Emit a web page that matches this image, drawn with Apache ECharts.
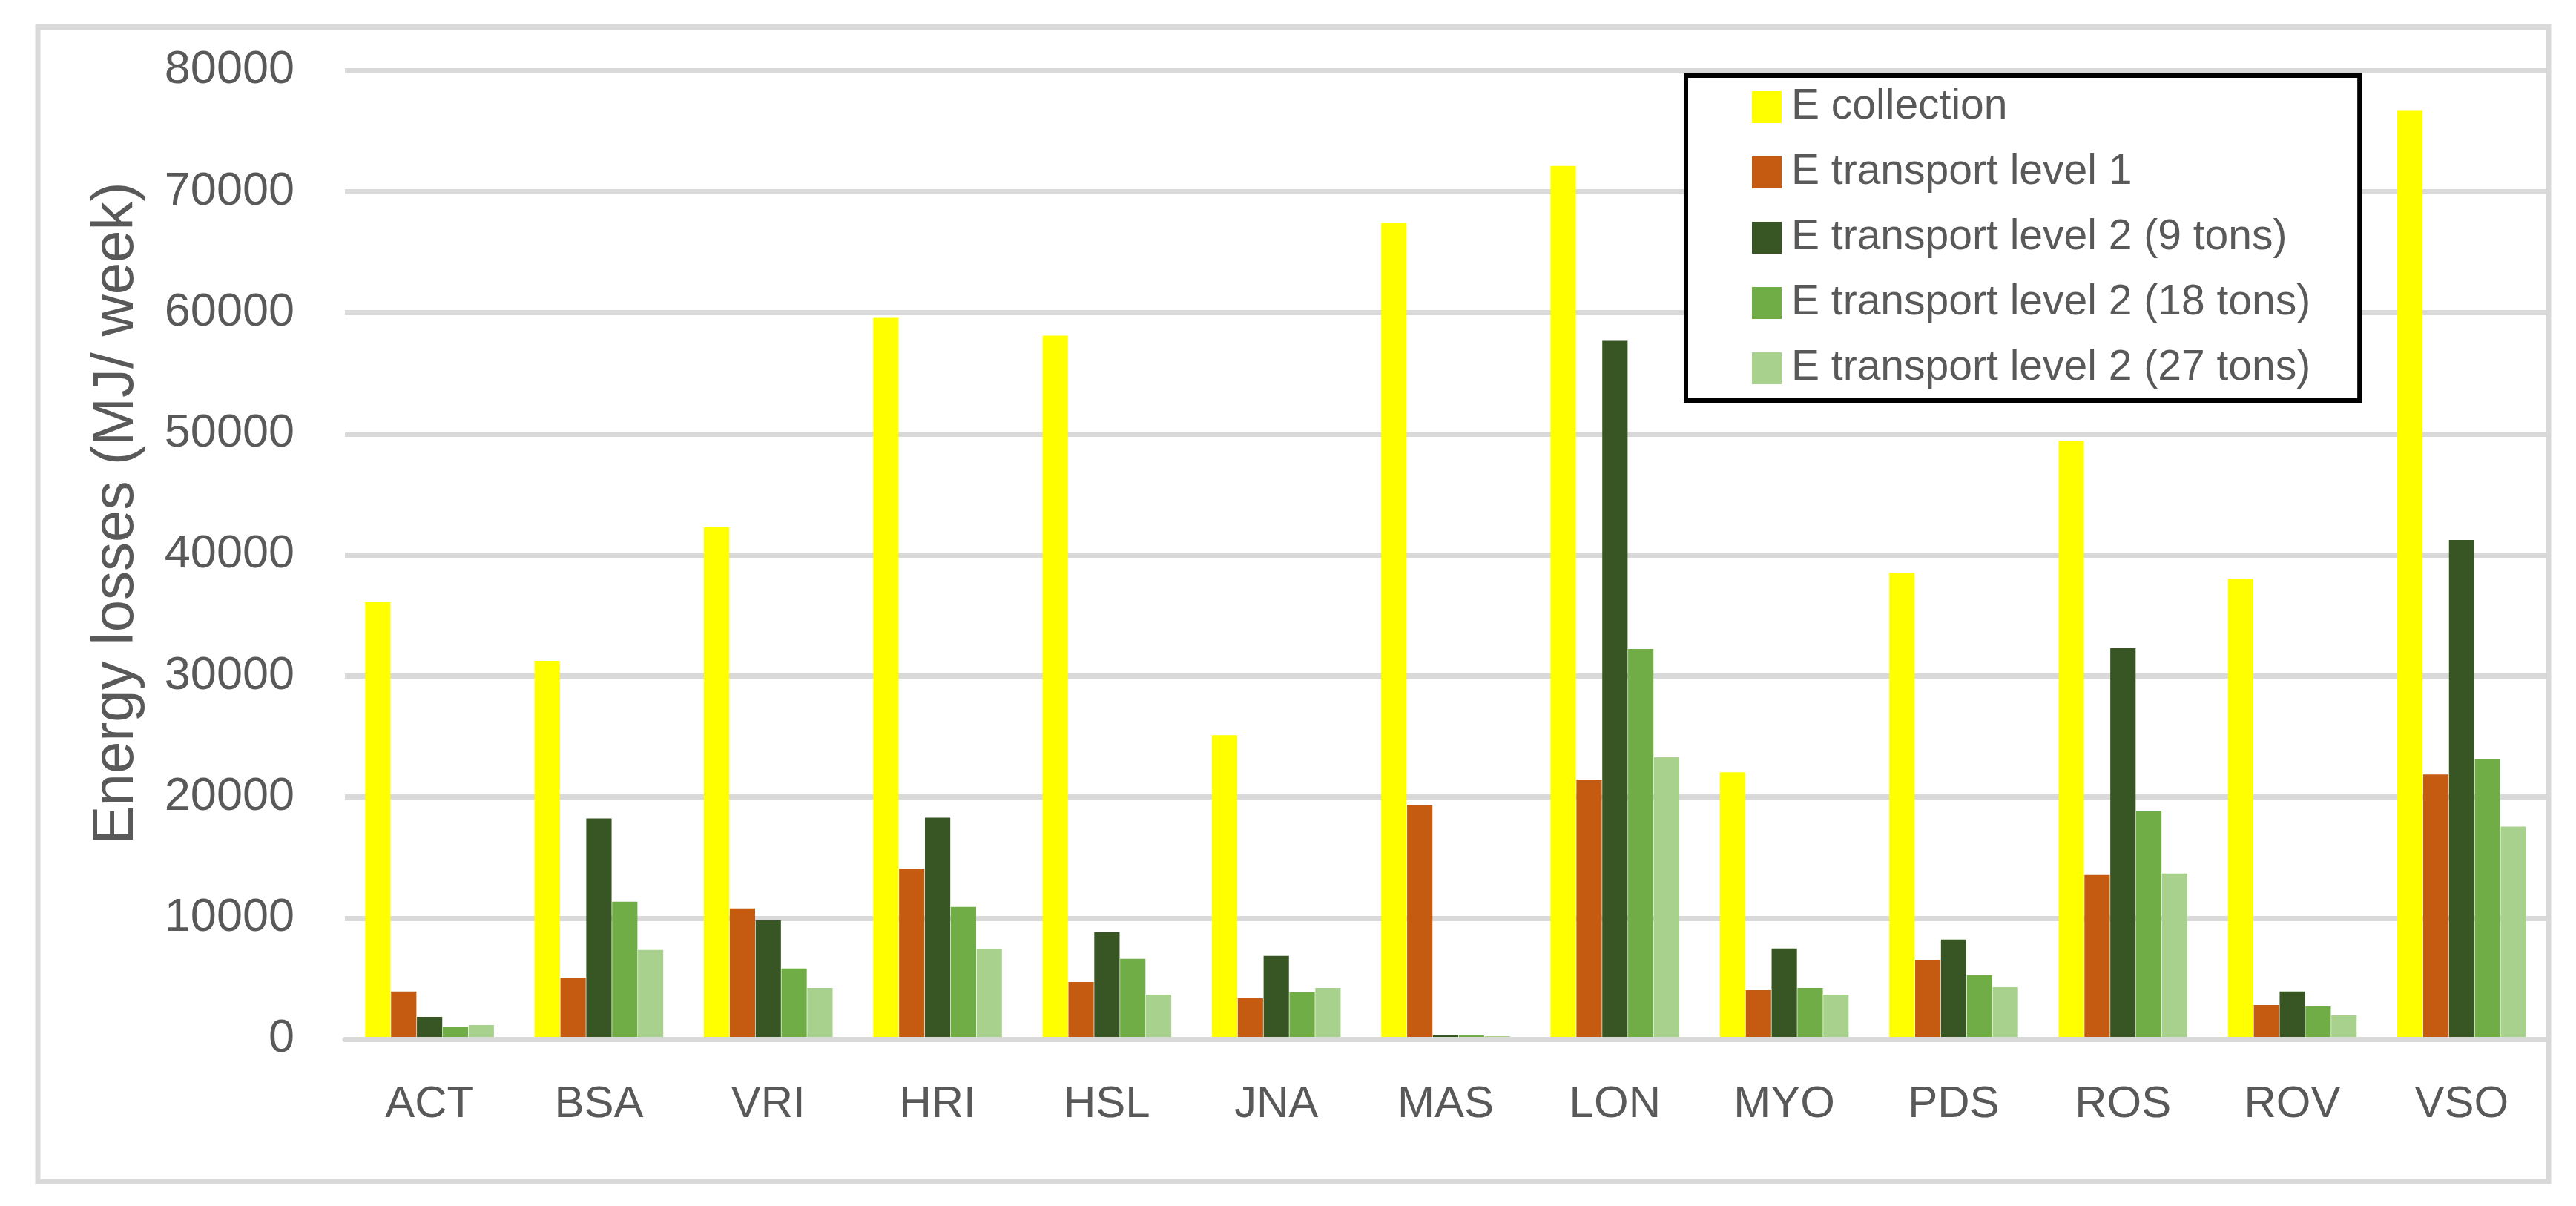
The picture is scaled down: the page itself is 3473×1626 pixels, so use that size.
<!DOCTYPE html>
<html>
<head>
<meta charset="utf-8">
<script src="https://cdn.jsdelivr.net/npm/echarts@6/dist/echarts.min.js"></script>
<style>
html,body{margin:0;padding:0;background:#fff;}
#chart{width:3473px;height:1626px;}
</style>
</head>
<body>
<div id="chart"></div>
<script>
const categories = ['ACT','BSA','VRI','HRI','HSL','JNA','MAS','LON','MYO','PDS','ROS','ROV','VSO'];
const seriesNames = ['E collection','E transport level 1','E transport level 2 (9 tons)','E transport level 2 (18 tons)','E transport level 2 (27 tons)'];
const eCollection = [36080, 31240, 42260, 59570, 58100, 25100, 67410, 72120, 22040, 38530, 49430, 38040, 76730];
const eTransport1 = [3940, 5090, 10800, 14090, 4720, 3370, 19350, 21430, 4050, 6560, 13560, 2820, 21860];
const eTransport2t9 = [1840, 18220, 9800, 18280, 8830, 6870, 370, 57670, 7490, 8220, 32280, 3930, 41220];
const eTransport2t18 = [1040, 11350, 5830, 10920, 6630, 3870, 310, 32220, 4230, 5280, 18860, 2700, 23090];
const eTransport2t27 = [1170, 7360, 4230, 7420, 3680, 4230, 250, 23270, 3680, 4290, 13680, 1960, 17550];
const yTicks = [0, 10000, 20000, 30000, 40000, 50000, 60000, 70000, 80000];
const colors = ['#FFFF00', '#C55A11', '#375623', '#70AD47', '#A9D18E'];
const axisTitle = 'Energy losses (MJ/ week)';

const FONT = "'Liberation Sans', Arial, sans-serif";
const TEXT = '#595959';
const GRID = '#D9D9D9';

const values = [eCollection, eTransport1, eTransport2t9, eTransport2t18, eTransport2t27];

const chart = echarts.init(document.getElementById('chart'), null, {renderer: 'canvas'});
chart.setOption({
  backgroundColor: '#ffffff',
  animation: false,
  color: colors,
  grid: {left: 465, right: 40, top: 95, bottom: 225, containLabel: false},
  graphic: [
    {type: 'rect', z: -1, shape: {x: 51, y: 36.5, width: 3385, height: 1557}, style: {fill: 'none', stroke: GRID, lineWidth: 7}},
    {type: 'text', x: 157, y: 692, rotation: Math.PI / 2,
     style: {text: axisTitle, font: "78px " + FONT, fill: TEXT, textAlign: 'center', textVerticalAlign: 'middle'}}
  ],
  legend: {
    orient: 'vertical',
    left: 2273, top: 102,
    padding: [14, 66, 15, 89],
    itemWidth: 40, itemHeight: 43, itemGap: 31,
    icon: 'rect',
    borderColor: '#000', borderWidth: 6,
    backgroundColor: '#fff',
    textStyle: {fontFamily: FONT, fontSize: 57, color: TEXT, padding: [0, 0, 0, 8]},
    data: seriesNames
  },
  xAxis: {
    type: 'category', data: categories, z: 3,
    axisLine: {lineStyle: {color: GRID, width: 7}},
    axisTick: {show: false},
    axisLabel: {fontFamily: FONT, fontSize: 60, color: TEXT, margin: 58}
  },
  yAxis: {
    type: 'value', min: 0, max: 80000, interval: 10000,
    axisLine: {show: false}, axisTick: {show: false},
    splitLine: {lineStyle: {color: GRID, width: 7}},
    axisLabel: {fontFamily: FONT, fontSize: 63, color: TEXT, margin: 68,
      formatter: v => yTicks.includes(v) ? String(v) : ''}
  },
  series: values.map((d, i) => ({
    name: seriesNames[i], type: 'bar', data: d,
    barGap: '2%', barCategoryGap: '24%',
    itemStyle: {color: colors[i]}
  }))
});
</script>
</body>
</html>
